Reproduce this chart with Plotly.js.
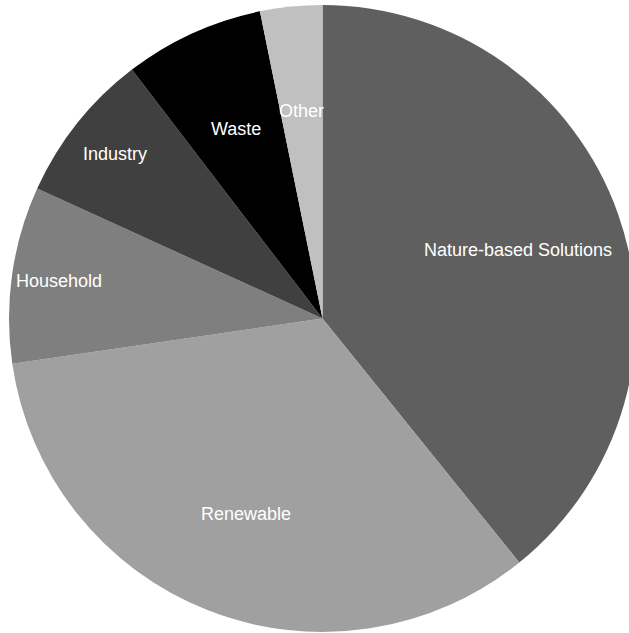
<!DOCTYPE html>
<html>
<head>
<meta charset="utf-8">
<script src="https://cdn.plot.ly/plotly-3.0.1.min.js"></script>
<style>
html, body { margin: 0; padding: 0; background: #fff; overflow: hidden; }
#chart { width: 629px; height: 633px; overflow: hidden; }
</style>
</head>
<body>
<div id="chart"></div>
<script>
const categories = ["Nature-based Solutions", "Renewable", "Household", "Industry", "Waste", "Other"];
const values = [39.2, 33.5, 9.1, 7.8, 7.2, 3.2];
const colors = ["#5f5f5f", "#a0a0a0", "#7f7f7f", "#404040", "#000000", "#c0c0c0"];
// label distance from centre, as a fraction of the radius
const labelRadius = [0.66, 0.67, 0.85, 0.845, 0.665, 0.665];

const trace = {
  type: "pie",
  labels: categories,
  values: values,
  sort: false,
  direction: "clockwise",
  rotation: 0,
  marker: { colors: colors, line: { width: 0 } },
  textinfo: "none",
  hoverinfo: "none"
};

// place labels at the mid-angle of each slice (computed from the values)
const total = values.reduce((a, b) => a + b, 0);
let cum = 0;
const annotations = values.map((v, i) => {
  const mid = (cum + v / 2) / total * 2 * Math.PI;
  cum += v;
  return {
    xref: "paper", yref: "paper",
    x: 0.5 + 0.5 * labelRadius[i] * Math.sin(mid),
    y: 0.5 + 0.5 * labelRadius[i] * Math.cos(mid),
    xanchor: "center", yanchor: "middle",
    text: categories[i],
    showarrow: false,
    font: { family: "Liberation Sans, Arial, sans-serif", size: 18, color: "#ffffff" }
  };
});

const layout = {
  width: 636,
  height: 633,
  margin: { l: 9, r: 0, t: 5, b: 1 },
  showlegend: false,
  paper_bgcolor: "#ffffff",
  annotations: annotations
};

Plotly.newPlot("chart", [trace], layout, { displayModeBar: false, staticPlot: true });
</script>
</body>
</html>
